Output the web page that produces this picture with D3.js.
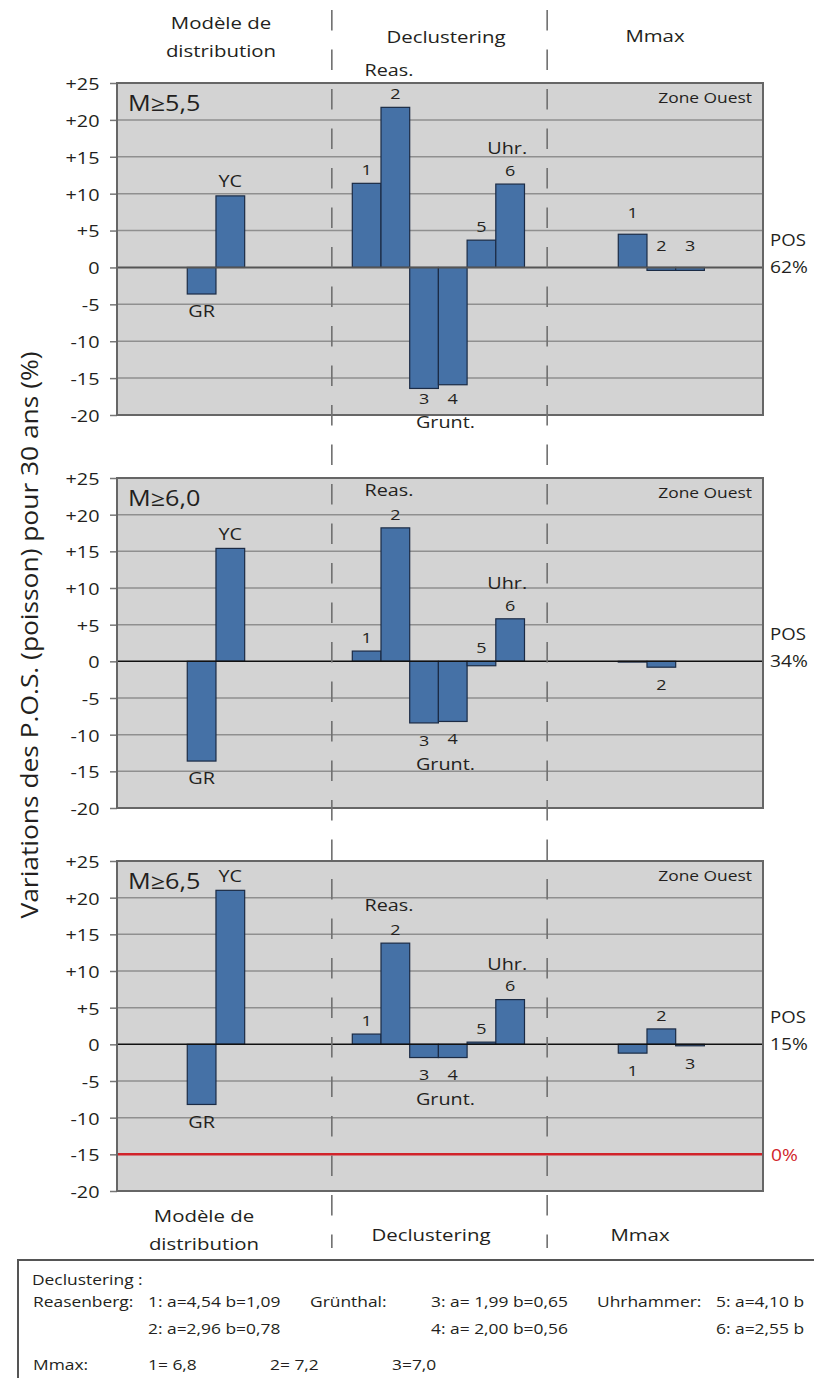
<!DOCTYPE html>
<html>
<head>
<meta charset="utf-8">
<script src="https://cdn.jsdelivr.net/npm/d3@7"></script>
<style>
  html, body { margin: 0; padding: 0; background: #ffffff; }
  svg { display: block; font-family: "Open Sans", "Noto Sans", sans-serif; }
</style>
</head>
<body>
<svg id="chart" width="814" height="1378"></svg>
<script>
// ---------------- DATA ----------------
const groupKeys = ["dist", "decl", "mmax"];
const groupHeadTop = [["Modèle de", "distribution"], ["Declustering"], ["Mmax"]];
const distCats = ["GR", "YC"];
const declCats = ["1", "2", "3", "4", "5", "6"];
const mmaxCats = ["1", "2", "3"];

const panelTitles = ["M≥5,5", "M≥6,0", "M≥6,5"];
const zoneLabel = "Zone Ouest";
const posLabels = ["62%", "34%", "15%"];

// M>=5,5
const dist55 = [-3.6, 9.7];
const decl55 = [11.4, 21.7, -16.4, -15.9, 3.7, 11.3];
const mmax55 = [4.5, -0.4, -0.4];
// M>=6,0
const dist60 = [-13.6, 15.4];
const decl60 = [1.4, 18.2, -8.4, -8.2, -0.6, 5.8];
const mmax60 = [-0.1, -0.8, 0];
// M>=6,5
const dist65 = [-8.2, 21.0];
const decl65 = [1.4, 13.8, -1.8, -1.8, 0.3, 6.1];
const mmax65 = [-1.2, 2.1, -0.2];

const yTickValues = [25, 20, 15, 10, 5, 0, -5, -10, -15, -20];
const yTickLabels = ["+25", "+20", "+15", "+10", "+5", "0", "-5", "-10", "-15", "-20"];
const refValue = -15;       // red reference line (bottom panel)
const refLabel = "0%";
const yTitle = "Variations des P.O.S. (poisson) pour 30 ans (%)";

const legendTitle = "Declustering :";
const legendRow1 = ["Reasenberg:", "1: a=4,54  b=1,09", "Grünthal:", "3: a= 1,99 b=0,65", "Uhrhammer:", "5: a=4,10  b"];
const legendRow2 = ["", "2: a=2,96  b=0,78", "", "4: a= 2,00 b=0,56", "", "6: a=2,55  b"];
const legendRow3 = ["Mmax:", "1= 6,8", "2= 7,2", "3=7,0"];

// ---------------- LAYOUT ----------------
const svg = d3.select("#chart");
const SX = 1.2;            // horizontal glyph stretch of the source figure
const INK = "#231f20";
const plotL = 117, plotR = 763;
const panelTops = [83, 478, 861];
const panelBots = [415, 808, 1191];
const barW = 28.7;
const groupShift = { dist: -8.7, decl: -1.6, mmax: 6 };

const panels = [
  { title: panelTitles[0], pos: posLabels[0], dist: dist55, decl: decl55, mmax: mmax55, zeroStyle: "grey" },
  { title: panelTitles[1], pos: posLabels[1], dist: dist60, decl: decl60, mmax: mmax60, zeroStyle: "black" },
  { title: panelTitles[2], pos: posLabels[2], dist: dist65, decl: decl65, mmax: mmax65, zeroStyle: "black", ref: true }
];

function txt(g, x, y, s, o = {}) {
  const t = g.append("text")
    .attr("transform", `translate(${x},${y}) scale(${o.sx || SX},1)`)
    .attr("text-anchor", o.anchor || "start")
    .attr("dominant-baseline", "central")
    .style("font-size", (o.size || 16) + "px")
    .attr("fill", o.fill || INK)
    .text(s);
  return t;
}

const outer = d3.scaleBand().domain(groupKeys).range([plotL, plotR]);
const catsOf = { dist: distCats, decl: declCats, mmax: mmaxCats };
const inner = {};
groupKeys.forEach(k => {
  const n = catsOf[k].length;
  const start = outer(k) + outer.bandwidth() / 2 - n * barW / 2 + groupShift[k];
  inner[k] = d3.scaleBand().domain(catsOf[k]).range([start, start + n * barW]);
});

// label tweaks (layout only)
const forceAbove = { "0-mmax-1": true, "0-mmax-2": true, "1-decl-4": true };
const hideLabel = { "1-mmax-0": true, "1-mmax-2": true };

panels.forEach((p, pi) => {
  const top = panelTops[pi], bot = panelBots[pi];
  const y = d3.scaleLinear().domain([-20, 25]).range([bot, top]);
  const g = svg.append("g");

  // background
  g.append("rect").attr("x", plotL).attr("y", top).attr("width", plotR - plotL).attr("height", bot - top)
    .attr("fill", "#d3d3d3");

  // gridlines
  g.selectAll("line.grid").data(yTickValues.filter(v => v !== 0 && v !== 25 && v !== -20)).enter()
    .append("line").attr("class", "grid")
    .attr("x1", plotL).attr("x2", plotR).attr("y1", d => y(d)).attr("y2", d => y(d))
    .attr("stroke", "#8f8f8f").attr("stroke-width", 1.5);

  // axis
  const axis = d3.axisLeft(y).tickValues(yTickValues)
    .tickFormat((d, i) => yTickLabels[i]).tickSize(7).tickSizeOuter(0);
  const ag = g.append("g").attr("transform", `translate(${plotL},0)`).call(axis);
  ag.select(".domain").remove();
  ag.selectAll(".tick line").attr("stroke", "#777").attr("stroke-width", 1.5);
  ag.selectAll(".tick text")
    .attr("x", -17.5 / SX).attr("dy", null)
    .attr("dominant-baseline", "central")
    .attr("transform", `scale(${SX},1)`)
    .attr("fill", INK)
    .style("font-size", "16.5px")
    .style("font-family", "'Open Sans', sans-serif");

  // reference line
  if (p.ref) {
    g.append("line").attr("x1", plotL).attr("x2", plotR).attr("y1", y(refValue)).attr("y2", y(refValue))
      .attr("stroke", "#d1232a").attr("stroke-width", 2.5);
    txt(g, 771, y(refValue), refLabel, { size: 16, fill: "#d1232a" });
  }

  p.y = y; p.g = g;
});

// dashed separators
const sepX = [outer("decl"), outer("mmax")];
svg.selectAll("line.sep").data(sepX).enter().append("line")
  .attr("x1", d => d - 0.5).attr("x2", d => d - 0.5)
  .attr("y1", 10).attr("y2", 1248)
  .attr("stroke", "#707070").attr("stroke-width", 1.6)
  .attr("stroke-dasharray", "20.5,19");

panels.forEach((p, pi) => {
  const { g, y } = p;
  const top = panelTops[pi], bot = panelBots[pi];
  const labelPos = {};
  groupKeys.forEach(k => {
    const vals = p[k];
    const cats = catsOf[k];
    const sc = inner[k];
    g.selectAll(`rect.bar-${k}`).data(vals).enter().append("rect")
      .attr("x", (d, i) => sc(cats[i]))
      .attr("width", sc.bandwidth())
      .attr("y", d => y(Math.max(0, d)))
      .attr("height", d => Math.abs(y(d) - y(0)))
      .attr("fill", "#4571a6")
      .attr("stroke", "#1b2b45").attr("stroke-width", 1.2);

    vals.forEach((v, i) => {
      const key = `${pi}-${k}-${i}`;
      if (hideLabel[key]) return;
      const cx = sc(cats[i]) + sc.bandwidth() / 2;
      const above = v >= 0 || forceAbove[key];
      const isName = k === "dist";
      let cy;
      if (above) cy = y(Math.max(0, v)) - (isName ? 15 : (k === "mmax" && pi === 0 ? 22 : 14));
      else cy = Math.min(y(Math.min(0, v)) + 17, bot - 17);
      labelPos[key] = { cx, cy };
      txt(g, cx, cy, cats[i], { anchor: "middle", size: isName ? 16.5 : 15 });
    });
  });

  // zero line
  g.append("line").attr("x1", plotL).attr("x2", plotR).attr("y1", y(0)).attr("y2", y(0))
    .attr("stroke", p.zeroStyle === "grey" ? "#555" : "#111")
    .attr("stroke-width", p.zeroStyle === "grey" ? 2 : 1.5);

  // frame
  g.append("rect").attr("x", plotL).attr("y", top).attr("width", plotR - plotL).attr("height", bot - top)
    .attr("fill", "none").attr("stroke", "#666").attr("stroke-width", 2);

  // method names
  const l2 = labelPos[`${pi}-decl-1`], l3 = labelPos[`${pi}-decl-2`], l6 = labelPos[`${pi}-decl-5`];
  txt(g, inner.decl("2") + 8, l2.cy - 24, "Reas.", { anchor: "middle", size: 16.5 });
  txt(g, inner.decl("4") + 7, l3.cy + 24, "Grunt.", { anchor: "middle", size: 16.5 });
  txt(g, l6.cx - 3, l6.cy - 22, "Uhr.", { anchor: "middle", size: 16.5 });

  // titles
  txt(g, plotL + 11, top + 20, p.title, { size: 21 });
  txt(g, 752, top + 15, zoneLabel, { size: 14.5, anchor: "end" });
  txt(g, 770, y(0) - 27, "POS", { size: 15.5 });
  txt(g, 770, y(0) - 1, p.pos, { size: 16 });
});

// group headings (top)
const head = svg.append("g");
txt(head, 221, 22, groupHeadTop[0][0], { anchor: "middle", size: 17 });
txt(head, 221, 50, groupHeadTop[0][1], { anchor: "middle", size: 17 });
txt(head, 446, 36, groupHeadTop[1][0], { anchor: "middle", size: 17 });
txt(head, 655, 35, groupHeadTop[2][0], { anchor: "middle", size: 17 });
// group headings (bottom)
txt(head, 204, 1215, groupHeadTop[0][0], { anchor: "middle", size: 17 });
txt(head, 204, 1243, groupHeadTop[0][1], { anchor: "middle", size: 17 });
txt(head, 431, 1234, groupHeadTop[1][0], { anchor: "middle", size: 17 });
txt(head, 640, 1234, groupHeadTop[2][0], { anchor: "middle", size: 17 });

// y title
svg.append("text")
  .attr("transform", `translate(28,635) rotate(-90) scale(1,${SX})`)
  .attr("text-anchor", "middle").attr("dominant-baseline", "central")
  .attr("textLength", 567).attr("lengthAdjust", "spacingAndGlyphs")
  .style("font-size", "20px").attr("fill", INK)
  .text(yTitle);

// legend box
const lg = svg.append("g");
lg.append("rect").attr("x", 18).attr("y", 1260).attr("width", 830).attr("height", 140)
  .attr("fill", "#fff").attr("stroke", "#555").attr("stroke-width", 2);
txt(lg, 32, 1280, legendTitle, { size: 14.5 });
const colX = [33, 148, 310, 431, 597, 716];
legendRow1.forEach((s, i) => { if (s) txt(lg, colX[i], 1302, s, { size: 14.5 }); });
legendRow2.forEach((s, i) => { if (s) txt(lg, colX[i], 1329, s, { size: 14.5 }); });
const colX3 = [33, 148, 270, 392];
legendRow3.forEach((s, i) => txt(lg, colX3[i], 1365, s, { size: 14.5 }));
</script>
</body>
</html>
